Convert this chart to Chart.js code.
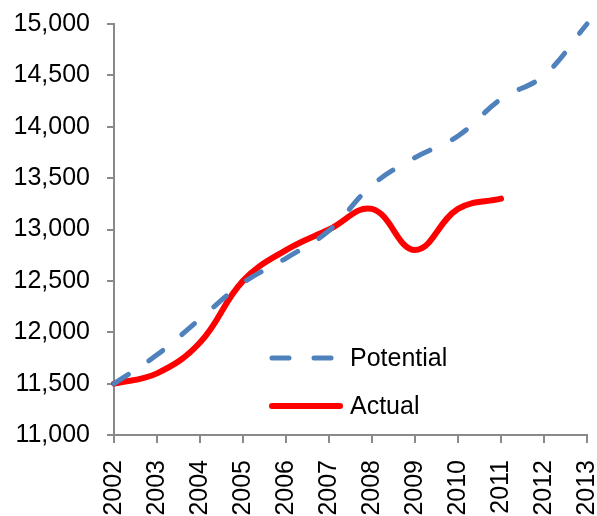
<!DOCTYPE html>
<html>
<head>
<meta charset="utf-8">
<script src="https://cdn.jsdelivr.net/npm/chart.js@4/dist/chart.umd.min.js"></script>
<style>
  html, body { margin: 0; padding: 0; background: #ffffff; }
  #wrap { width: 597px; height: 516px; }
</style>
</head>
<body>
<div id="wrap"><canvas id="chart" width="597" height="516"></canvas></div>
<script>
// Years on the horizontal axis
const years = ['2002','2003','2004','2005','2006','2007','2008','2009','2010','2011','2012','2013'];

// Potential output (dashed blue)
const potential = [11500, 11780, 12130, 12480, 12720, 12990, 13430, 13700, 13910, 14270, 14500, 15000];

// Actual output (solid red), ends in 2011
const actual = [11500, 11600, 11900, 12500, 12800, 13000, 13200, 12800, 13200, 13300, null, null];

const seriesNames = ['Potential', 'Actual'];

const FONT = '"Liberation Sans", Arial, sans-serif';
const AXIS_GREY = '#898989';

// Legend drawn inside the plot area, below the lines
const insideLegend = {
  id: 'insideLegend',
  afterDraw(chart) {
    const ctx = chart.ctx;
    const x0 = 272, x1 = 340, textX = 350;
    const rows = [358, 406];
    ctx.save();
    chart.data.datasets.forEach((ds, i) => {
      const y = rows[i];
      ctx.beginPath();
      ctx.strokeStyle = ds.borderColor;
      ctx.lineWidth = ds.borderWidth;
      ctx.lineCap = 'round';
      ctx.setLineDash(ds.borderDash || []);
      ctx.moveTo(x0, y);
      ctx.lineTo(x1, y);
      ctx.stroke();
      ctx.setLineDash([]);
      ctx.fillStyle = '#000000';
      ctx.font = '25px ' + FONT;
      ctx.textBaseline = 'middle';
      ctx.textAlign = 'left';
      ctx.fillText(ds.label, textX, y + 1);
    });
    ctx.restore();
  }
};

new Chart(document.getElementById('chart'), {
  type: 'line',
  data: {
    labels: years,
    datasets: [
      {
        label: seriesNames[0],
        data: potential,
        borderColor: '#4f81bd',
        borderWidth: 5,
        borderDash: [17, 25],
        borderCapStyle: 'round',
        pointRadius: 0,
        tension: 0.4,
        fill: false,
        clip: false
      },
      {
        label: seriesNames[1],
        data: actual,
        borderColor: '#ff0000',
        borderWidth: 6,
        borderCapStyle: 'round',
        pointRadius: 0,
        tension: 0.4,
        fill: false,
        spanGaps: false,
        clip: false
      }
    ]
  },
  options: {
    responsive: false,
    animation: false,
    locale: 'en-US',
    layout: { padding: { top: 24, right: 10, left: 0, bottom: 0 } },
    plugins: {
      legend: { display: false },
      tooltip: { enabled: false }
    },
    scales: {
      x: {
        offset: false,
        grid: { drawOnChartArea: false, drawTicks: true, tickLength: 8, color: AXIS_GREY, lineWidth: 2 },
        border: { display: true, color: AXIS_GREY, width: 2 },
        ticks: {
          color: '#000000',
          font: { family: FONT, size: 25 },
          minRotation: 90,
          maxRotation: 90,
          padding: 17,
          autoSkip: false
        },
        afterFit(scale) {
          scale.height = 81;
          scale.paddingLeft = 0;
          scale.paddingRight = 0;
        }
      },
      y: {
        min: 11000,
        max: 15000,
        grid: { drawOnChartArea: false, drawTicks: true, tickLength: 7, color: AXIS_GREY, lineWidth: 2 },
        border: { display: true, color: AXIS_GREY, width: 2 },
        ticks: {
          stepSize: 500,
          color: '#000000',
          font: { family: FONT, size: 25 },
          padding: 17
        },
        afterFit(scale) {
          scale.width = 114;
          scale.paddingTop = 0;
          scale.paddingBottom = 0;
        }
      }
    }
  },
  plugins: [insideLegend]
});
</script>
</body>
</html>
